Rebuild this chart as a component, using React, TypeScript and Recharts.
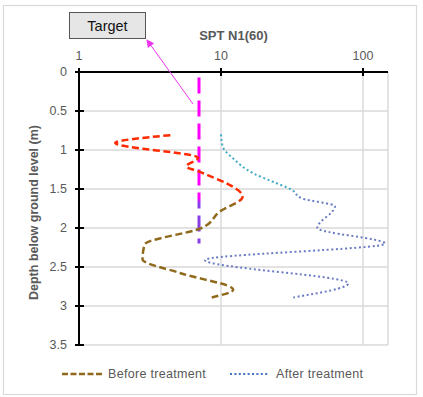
import React from 'react';
import { LineChart, Line, XAxis, YAxis, CartesianGrid } from 'recharts';

// ---- data ----
const nTicks = [1, 10, 100];
const depthTicks = [0, 0.5, 1, 1.5, 2, 2.5, 3, 3.5];
const nDomain: [number, number] = [1, 150];
const depthDomain: [number, number] = [0, 3.5];

const beforeDepth = [0.81, 0.91, 1.1, 1.21, 1.28, 1.6, 1.79, 2.0, 2.21, 2.4, 2.58, 2.79, 2.89];
const beforeN = [4.4, 1.8, 6.9, 5.7, 7.1, 14.2, 9.8, 7.3, 2.9, 2.8, 5.2, 12.2, 8.6];

const afterDepth = [0.8, 0.96, 1.11, 1.3, 1.41, 1.51, 1.62, 1.72, 2.0, 2.2, 2.41, 2.71, 2.89];
const afterN = [10.0, 10.3, 12.2, 16.9, 23.4, 31.5, 37, 63.5, 47.7, 143, 7.7, 78.8, 32.3];

const targetDepth = [0.07, 2.2];
const targetN = [7, 7];

const seriesNames = ['Before treatment', 'After treatment'];

const zip = (d: number[], n: number[]) => d.map((depth, i) => ({ depth, n: n[i] }));
const beforeData = zip(beforeDepth, beforeN);
const afterData = zip(afterDepth, afterN);
const targetData = zip(targetDepth, targetN);

// ---- layout ----
const W = 423;
const H = 397;
const PLOT = { left: 79, right: 388, top: 72, bottom: 345 };
const depthY = (d: number) => PLOT.top + (d / depthDomain[1]) * (PLOT.bottom - PLOT.top);

const GRAY = '#595959';
const FONT = '"Liberation Sans", Arial, sans-serif';

const XTick = (p: any) => (
  <g>
    <line x1={p.x} x2={p.x} y1={PLOT.top - 4} y2={PLOT.top + 4} stroke="#000" strokeWidth={2} />
    <text x={p.x} y={PLOT.top - 12} textAnchor="middle" fill={GRAY} fontSize={12.5} fontFamily={FONT}>
      {p.payload.value}
    </text>
  </g>
);

const YTick = (p: any) => (
  <g>
    <line x1={PLOT.left - 4} x2={PLOT.left + 5} y1={p.y} y2={p.y} stroke="#000" strokeWidth={2} />
    <text x={PLOT.left - 12} y={p.y} dy="0.35em" textAnchor="end" fill={GRAY} fontSize={12.5} fontFamily={FONT}>
      {p.payload.value}
    </text>
  </g>
);

export default function App() {
  return (
    <div style={{ position: 'absolute', left: 0, top: 0, width: W, height: H, background: '#fff' }}>
      <LineChart
        width={W}
        height={H}
        layout="vertical"
        margin={{ top: 5, right: W - PLOT.right, bottom: H - PLOT.bottom, left: 5 }}
      >
        <defs>
          <linearGradient id="gBefore" gradientUnits="userSpaceOnUse" x1="0" x2="0" y1={depthY(0.8)} y2={depthY(2.9)}>
            <stop offset={(1.62 - 0.8) / 2.1} stopColor="#ff2a00" />
            <stop offset={(1.7 - 0.8) / 2.1} stopColor="#8f6a1c" />
          </linearGradient>
          <linearGradient id="gAfter" gradientUnits="userSpaceOnUse" x1="0" x2="0" y1={depthY(0.8)} y2={depthY(2.9)}>
            <stop offset={(1.5 - 0.8) / 2.1} stopColor="#3fa9c6" />
            <stop offset={(1.6 - 0.8) / 2.1} stopColor="#6a7cc4" />
          </linearGradient>
          <linearGradient id="gTarget" gradientUnits="userSpaceOnUse" x1="0" x2="0" y1={depthY(0)} y2={depthY(2.2)}>
            <stop offset={1.62 / 2.2} stopColor="#ff00ff" />
            <stop offset={1.68 / 2.2} stopColor="#8a3fe6" />
          </linearGradient>
        </defs>
        <CartesianGrid stroke="#d9d9d9" strokeWidth={1.4} />
        <XAxis
          type="number"
          scale="log"
          domain={nDomain}
          ticks={nTicks}
          interval={0}
          orientation="top"
          height={PLOT.top - 5}
          allowDataOverflow
          axisLine={{ stroke: '#000', strokeWidth: 2 }}
          tickLine={false}
          tick={<XTick />}
        />
        <YAxis
          type="number"
          dataKey="depth"
          domain={depthDomain}
          ticks={depthTicks}
          interval={0}
          width={PLOT.left - 5}
          allowDataOverflow
          axisLine={{ stroke: '#000', strokeWidth: 2 }}
          tickLine={false}
          tick={<YTick />}
        />
        <Line
          data={targetData}
          dataKey="n"
          type="linear"
          stroke="url(#gTarget)"
          strokeWidth={3}
          strokeDasharray="16 7"
          dot={false}
          activeDot={false}
          isAnimationActive={false}
        />
        <Line
          data={beforeData}
          dataKey="n"
          name={seriesNames[0]}
          type="monotone"
          stroke="url(#gBefore)"
          strokeWidth={2.5}
          strokeDasharray="7 3.5"
          dot={false}
          activeDot={false}
          isAnimationActive={false}
        />
        <Line
          data={afterData}
          dataKey="n"
          name={seriesNames[1]}
          type="monotone"
          stroke="url(#gAfter)"
          strokeWidth={2}
          strokeDasharray="2 2.6"
          dot={false}
          activeDot={false}
          isAnimationActive={false}
        />
      </LineChart>
      <svg
        width={W}
        height={H}
        style={{ position: 'absolute', left: 0, top: 0, pointerEvents: 'none' }}
      >
        <defs>
          <marker id="arrowHead" markerWidth="8" markerHeight="8" refX="7" refY="4" orient="auto" markerUnits="userSpaceOnUse">
            <path d="M0,0 L8,4 L0,8 Z" fill="#ee33ee" />
          </marker>
        </defs>
        <rect x={3.5} y={5.5} width={413} height={389} fill="none" stroke="#d9d9d9" strokeWidth={1.2} />
        <text x={233.5} y={40} textAnchor="middle" fill={GRAY} fontSize={13} fontWeight="bold" fontFamily={FONT}>
          SPT N1(60)
        </text>
        <text
          transform={`translate(38, ${(PLOT.top + PLOT.bottom) / 2 + 4}) rotate(-90)`}
          textAnchor="middle"
          fill={GRAY}
          fontSize={12.5}
          fontWeight="bold"
          fontFamily={FONT}
        >
          Depth below ground level (m)
        </text>
        <rect x={69.5} y={12.5} width={76} height={26} fill="#e6e6e6" stroke="#555" strokeWidth={1} />
        <text x={107.5} y={31} textAnchor="middle" fill="#111" fontSize={14.5} fontFamily={FONT}>
          Target
        </text>
        <line x1={193} y1={104} x2={147} y2={40} stroke="#ee33ee" strokeWidth={1} markerEnd="url(#arrowHead)" />
        <line x1={62} x2={104} y1={374} y2={374} stroke="#8f6a1c" strokeWidth={2.5} strokeDasharray="6 2.5" />
        <text x={108} y={378} fill={GRAY} fontSize={12.5} letterSpacing={0.3} fontFamily={FONT}>
          {seriesNames[0]}
        </text>
        <line x1={230} x2={269} y1={374} y2={374} stroke="#4472c4" strokeWidth={2} strokeDasharray="2 2.4" />
        <text x={276} y={378} fill={GRAY} fontSize={12.5} letterSpacing={0.3} fontFamily={FONT}>
          {seriesNames[1]}
        </text>
      </svg>
    </div>
  );
}
